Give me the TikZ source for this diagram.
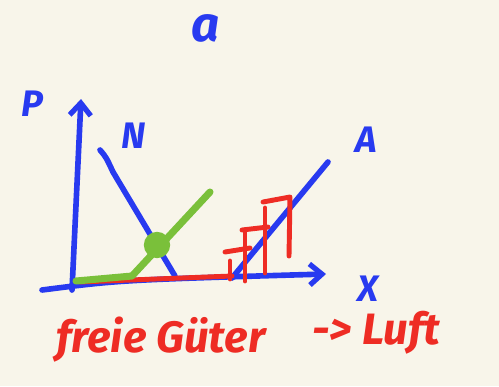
\documentclass[tikz,border=0pt]{standalone}
\usepackage{fontspec}
\setmainfont{Fira Sans}
\usepackage{tikz}
\usetikzlibrary{arrows.meta}
\definecolor{paper}{RGB}{248,245,234}
\definecolor{penblue}{RGB}{40,58,240}
\definecolor{penred}{RGB}{238,44,36}
\definecolor{pengreen}{RGB}{122,192,58}

\begin{document}
\begin{tikzpicture}[
x=0.02cm,y=-0.02cm,
stroke/.style={line width=3.2pt,line cap=round,line join=round},
blueline/.style={stroke,draw=penblue},
redline/.style={stroke,draw=penred,line width=2.8pt},
greenline/.style={stroke,draw=pengreen,line width=4pt},
lbl/.style={text=penblue,font=\bfseries\itshape\fontsize{21}{25}\selectfont,inner sep=0pt},
note/.style={text=penred,font=\bfseries\itshape\fontsize{25}{30}\selectfont,inner sep=0pt},
>={Straight Barb[length=7pt,width=12pt,line width=3pt]}
]
\fill[paper] (0,0) rectangle (499,386);
\useasboundingbox (0,0) rectangle (499,386);

% labels
\node[lbl,font=\bfseries\itshape\fontsize{28}{32}\selectfont] (title) at (206,28) {a};
\node[lbl] (p) at (32,104) {P};
\node[lbl] (n) at (134,136) {N};
\node[lbl] (a) at (366,140) {A};
\node[lbl] (x) at (368,289) {X};

% axes
\coordinate (o) at (72,290);
\coordinate (ytop) at (81,99);
\coordinate (xleft) at (42,290);
\coordinate (xright) at (326,274);
\draw[blueline,->] (o) -- (ytop);
\draw[blueline,->] (xleft) .. controls (120,280) .. (xright);

% demand and supply
\coordinate (n0) at (100,150);
\coordinate (n1) at (113,172);
\coordinate (n2) at (175,276);
\coordinate (a0) at (232,278);
\coordinate (a1) at (328,162);
\draw[blueline] (n0) .. controls (106,157) .. (n1) -- (n2);
\draw[blueline] (a0) -- (a1);

% red steps
\coordinate (r0) at (80,282);
\coordinate (r1) at (232,276);
\draw[redline] (r0) -- (r1);
\draw[redline] (230,279) -- (230,261);
\draw[redline] (225,252) -- (250,248);
\draw[redline] (245,281) -- (245,233);
\draw[redline] (242,230) -- (268,227);
\draw[redline] (265,273) -- (265,208);
\draw[redline] (263,202) -- (290,197) -- (289,256);

% green path and point
\coordinate (g0) at (76,281);
\coordinate (g1) at (132,276);
\coordinate (g2) at (210,192);
\draw[greenline] (g0) -- (g1) -- (g2);
\node[circle,fill=pengreen,minimum size=15pt,inner sep=0pt] (eq) at (157,245) {};

% note
\node[note,anchor=base west] (free) at (56,352) {freie Güter};
\node[note,anchor=base west] (air) at (312,344) {-> Luft};
\end{tikzpicture}
\end{document}
